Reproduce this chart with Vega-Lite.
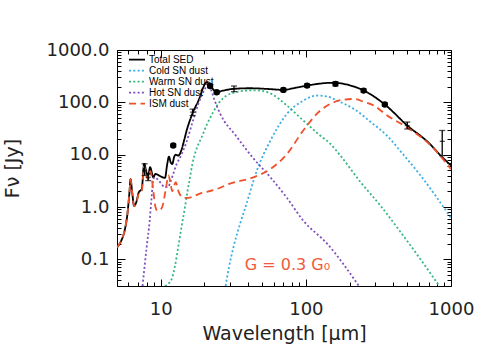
{
  "$schema": "https://vega.github.io/schema/vega-lite/v6.json",
  "width": 334,
  "height": 236,
  "autosize": {"type": "none"},
  "padding": {"left": 117, "top": 50, "right": 26, "bottom": 72},
  "config": {"view": {"stroke": null}, "font": "DejaVu Sans"},
  "datasets": {
    "curves": [
      {"series": "Total SED", "wl": 5.0, "f": 0.17}, {"series": "Total SED", "wl": 5.36, "f": 0.23}, {"series": "Total SED", "wl": 5.65, "f": 0.36}, {"series": "Total SED", "wl": 5.9, "f": 0.74}, {"series": "Total SED", "wl": 6.1, "f": 2.0}, {"series": "Total SED", "wl": 6.2, "f": 3.4}, {"series": "Total SED", "wl": 6.35, "f": 2.0}, {"series": "Total SED", "wl": 6.56, "f": 1.05}, {"series": "Total SED", "wl": 6.8, "f": 1.25}, {"series": "Total SED", "wl": 7.06, "f": 1.9}, {"series": "Total SED", "wl": 7.4, "f": 2.2}, {"series": "Total SED", "wl": 7.7, "f": 6.7}, {"series": "Total SED", "wl": 7.98, "f": 4.6}, {"series": "Total SED", "wl": 8.2, "f": 4.0}, {"series": "Total SED", "wl": 8.45, "f": 5.8}, {"series": "Total SED", "wl": 8.9, "f": 3.7}, {"series": "Total SED", "wl": 9.2, "f": 4.3}, {"series": "Total SED", "wl": 9.9, "f": 3.9}, {"series": "Total SED", "wl": 10.7, "f": 3.6}, {"series": "Total SED", "wl": 11.1, "f": 6.7}, {"series": "Total SED", "wl": 11.4, "f": 9.2}, {"series": "Total SED", "wl": 11.7, "f": 7.2}, {"series": "Total SED", "wl": 12.0, "f": 6.6}, {"series": "Total SED", "wl": 12.4, "f": 9.2}, {"series": "Total SED", "wl": 12.7, "f": 10}, {"series": "Total SED", "wl": 13.2, "f": 9.6}, {"series": "Total SED", "wl": 13.8, "f": 11.6}, {"series": "Total SED", "wl": 14.4, "f": 17.5}, {"series": "Total SED", "wl": 15.1, "f": 29}, {"series": "Total SED", "wl": 16.7, "f": 65}, {"series": "Total SED", "wl": 18.5, "f": 120}, {"series": "Total SED", "wl": 19.6, "f": 190}, {"series": "Total SED", "wl": 20.7, "f": 242}, {"series": "Total SED", "wl": 22.0, "f": 205}, {"series": "Total SED", "wl": 24.3, "f": 158}, {"series": "Total SED", "wl": 27, "f": 168}, {"series": "Total SED", "wl": 31.7, "f": 181}, {"series": "Total SED", "wl": 41, "f": 186}, {"series": "Total SED", "wl": 55, "f": 180}, {"series": "Total SED", "wl": 70, "f": 173}, {"series": "Total SED", "wl": 85, "f": 190}, {"series": "Total SED", "wl": 102, "f": 209}, {"series": "Total SED", "wl": 125, "f": 228}, {"series": "Total SED", "wl": 148, "f": 236}, {"series": "Total SED", "wl": 165, "f": 234}, {"series": "Total SED", "wl": 200, "f": 212}, {"series": "Total SED", "wl": 251, "f": 168}, {"series": "Total SED", "wl": 350, "f": 91}, {"series": "Total SED", "wl": 500, "f": 36}, {"series": "Total SED", "wl": 700, "f": 17}, {"series": "Total SED", "wl": 850, "f": 9.6}, {"series": "Total SED", "wl": 1000, "f": 6.2},
      {"series": "Cold SN dust", "wl": 28, "f": 0.031}, {"series": "Cold SN dust", "wl": 29.5, "f": 0.07}, {"series": "Cold SN dust", "wl": 31.7, "f": 0.17}, {"series": "Cold SN dust", "wl": 35, "f": 0.45}, {"series": "Cold SN dust", "wl": 39, "f": 1.15}, {"series": "Cold SN dust", "wl": 46, "f": 5.0}, {"series": "Cold SN dust", "wl": 57, "f": 18.6}, {"series": "Cold SN dust", "wl": 74, "f": 60}, {"series": "Cold SN dust", "wl": 96, "f": 108}, {"series": "Cold SN dust", "wl": 119, "f": 135}, {"series": "Cold SN dust", "wl": 140, "f": 130}, {"series": "Cold SN dust", "wl": 164, "f": 108}, {"series": "Cold SN dust", "wl": 214, "f": 75}, {"series": "Cold SN dust", "wl": 280, "f": 42}, {"series": "Cold SN dust", "wl": 363, "f": 23}, {"series": "Cold SN dust", "wl": 470, "f": 10}, {"series": "Cold SN dust", "wl": 617, "f": 4.0}, {"series": "Cold SN dust", "wl": 1000, "f": 0.62},
      {"series": "Warm SN dust", "wl": 10.7, "f": 0.031}, {"series": "Warm SN dust", "wl": 11.9, "f": 0.042}, {"series": "Warm SN dust", "wl": 12.5, "f": 0.071}, {"series": "Warm SN dust", "wl": 13.2, "f": 0.17}, {"series": "Warm SN dust", "wl": 13.9, "f": 0.41}, {"series": "Warm SN dust", "wl": 14.7, "f": 1.0}, {"series": "Warm SN dust", "wl": 15.3, "f": 2.0}, {"series": "Warm SN dust", "wl": 15.9, "f": 3.6}, {"series": "Warm SN dust", "wl": 16.5, "f": 6.5}, {"series": "Warm SN dust", "wl": 17.5, "f": 12}, {"series": "Warm SN dust", "wl": 19.2, "f": 22}, {"series": "Warm SN dust", "wl": 21, "f": 40}, {"series": "Warm SN dust", "wl": 23, "f": 65}, {"series": "Warm SN dust", "wl": 25, "f": 95}, {"series": "Warm SN dust", "wl": 28.5, "f": 135}, {"series": "Warm SN dust", "wl": 33, "f": 156}, {"series": "Warm SN dust", "wl": 37, "f": 166}, {"series": "Warm SN dust", "wl": 43.5, "f": 170}, {"series": "Warm SN dust", "wl": 50, "f": 165}, {"series": "Warm SN dust", "wl": 57, "f": 148}, {"series": "Warm SN dust", "wl": 74, "f": 87}, {"series": "Warm SN dust", "wl": 96, "f": 45}, {"series": "Warm SN dust", "wl": 126, "f": 23}, {"series": "Warm SN dust", "wl": 148, "f": 16}, {"series": "Warm SN dust", "wl": 173, "f": 9.6}, {"series": "Warm SN dust", "wl": 238, "f": 3.0}, {"series": "Warm SN dust", "wl": 327, "f": 1.06}, {"series": "Warm SN dust", "wl": 450, "f": 0.33}, {"series": "Warm SN dust", "wl": 617, "f": 0.10}, {"series": "Warm SN dust", "wl": 830, "f": 0.031},
      {"series": "Hot SN dust", "wl": 7.5, "f": 0.031}, {"series": "Hot SN dust", "wl": 8.0, "f": 0.17}, {"series": "Hot SN dust", "wl": 8.4, "f": 0.55}, {"series": "Hot SN dust", "wl": 8.65, "f": 1.5}, {"series": "Hot SN dust", "wl": 8.9, "f": 3.4}, {"series": "Hot SN dust", "wl": 9.1, "f": 3.7}, {"series": "Hot SN dust", "wl": 9.5, "f": 3.4}, {"series": "Hot SN dust", "wl": 10.1, "f": 2.8}, {"series": "Hot SN dust", "wl": 10.6, "f": 2.4}, {"series": "Hot SN dust", "wl": 11.2, "f": 2.4}, {"series": "Hot SN dust", "wl": 11.8, "f": 3.3}, {"series": "Hot SN dust", "wl": 12.2, "f": 4.3}, {"series": "Hot SN dust", "wl": 12.9, "f": 6.7}, {"series": "Hot SN dust", "wl": 13.5, "f": 8.5}, {"series": "Hot SN dust", "wl": 15, "f": 17}, {"series": "Hot SN dust", "wl": 16.7, "f": 45}, {"series": "Hot SN dust", "wl": 18.2, "f": 95}, {"series": "Hot SN dust", "wl": 20.2, "f": 181}, {"series": "Hot SN dust", "wl": 21.3, "f": 226}, {"series": "Hot SN dust", "wl": 22.3, "f": 170}, {"series": "Hot SN dust", "wl": 23.5, "f": 110}, {"series": "Hot SN dust", "wl": 25.6, "f": 62}, {"series": "Hot SN dust", "wl": 33.4, "f": 22}, {"series": "Hot SN dust", "wl": 43.5, "f": 8.5}, {"series": "Hot SN dust", "wl": 57, "f": 3.7}, {"series": "Hot SN dust", "wl": 74, "f": 1.5}, {"series": "Hot SN dust", "wl": 96, "f": 0.55}, {"series": "Hot SN dust", "wl": 140, "f": 0.2}, {"series": "Hot SN dust", "wl": 232, "f": 0.031},
      {"series": "ISM dust", "wl": 5.0, "f": 0.17}, {"series": "ISM dust", "wl": 5.36, "f": 0.23}, {"series": "ISM dust", "wl": 5.65, "f": 0.36}, {"series": "ISM dust", "wl": 5.9, "f": 0.74}, {"series": "ISM dust", "wl": 6.1, "f": 2.0}, {"series": "ISM dust", "wl": 6.2, "f": 3.4}, {"series": "ISM dust", "wl": 6.35, "f": 2.0}, {"series": "ISM dust", "wl": 6.56, "f": 1.05}, {"series": "ISM dust", "wl": 6.8, "f": 1.2}, {"series": "ISM dust", "wl": 7.06, "f": 1.8}, {"series": "ISM dust", "wl": 7.4, "f": 2.0}, {"series": "ISM dust", "wl": 7.7, "f": 6.0}, {"series": "ISM dust", "wl": 7.98, "f": 4.0}, {"series": "ISM dust", "wl": 8.2, "f": 3.3}, {"series": "ISM dust", "wl": 8.5, "f": 4.8}, {"series": "ISM dust", "wl": 8.9, "f": 2.0}, {"series": "ISM dust", "wl": 9.2, "f": 1.0}, {"series": "ISM dust", "wl": 9.5, "f": 0.85}, {"series": "ISM dust", "wl": 10.0, "f": 0.9}, {"series": "ISM dust", "wl": 10.4, "f": 1.15}, {"series": "ISM dust", "wl": 10.7, "f": 1.8}, {"series": "ISM dust", "wl": 11.0, "f": 2.8}, {"series": "ISM dust", "wl": 11.3, "f": 4.0}, {"series": "ISM dust", "wl": 11.7, "f": 2.8}, {"series": "ISM dust", "wl": 12.0, "f": 2.0}, {"series": "ISM dust", "wl": 12.4, "f": 2.6}, {"series": "ISM dust", "wl": 12.7, "f": 3.0}, {"series": "ISM dust", "wl": 13.2, "f": 2.06}, {"series": "ISM dust", "wl": 14.3, "f": 1.5}, {"series": "ISM dust", "wl": 15.5, "f": 1.5}, {"series": "ISM dust", "wl": 18.6, "f": 1.8}, {"series": "ISM dust", "wl": 24.3, "f": 2.2}, {"series": "ISM dust", "wl": 30, "f": 2.8}, {"series": "ISM dust", "wl": 43.5, "f": 3.7}, {"series": "ISM dust", "wl": 57, "f": 5.3}, {"series": "ISM dust", "wl": 74, "f": 10.3}, {"series": "ISM dust", "wl": 96, "f": 29}, {"series": "ISM dust", "wl": 126, "f": 70}, {"series": "ISM dust", "wl": 148, "f": 94}, {"series": "ISM dust", "wl": 180, "f": 112}, {"series": "ISM dust", "wl": 214, "f": 116}, {"series": "ISM dust", "wl": 250, "f": 103}, {"series": "ISM dust", "wl": 294, "f": 87}, {"series": "ISM dust", "wl": 363, "f": 56}, {"series": "ISM dust", "wl": 500, "f": 33}, {"series": "ISM dust", "wl": 725, "f": 15}, {"series": "ISM dust", "wl": 1000, "f": 5.3}
    ],
    "obs": [
      {"wl": 7.75, "f": 5.0, "lo": 4.0, "hi": 6.7, "circle": false},
      {"wl": 8.2, "f": 3.7, "lo": 3.2, "hi": 4.3, "circle": false},
      {"wl": 12.2, "f": 15, "lo": 14, "hi": 16, "circle": true},
      {"wl": 16.6, "f": 65, "lo": 56, "hi": 74, "circle": false},
      {"wl": 21.9, "f": 205, "lo": 190, "hi": 220, "circle": true},
      {"wl": 24.3, "f": 156, "lo": 145, "hi": 168, "circle": true},
      {"wl": 32, "f": 181, "lo": 160, "hi": 205, "circle": false},
      {"wl": 70, "f": 173, "lo": 160, "hi": 186, "circle": true},
      {"wl": 102, "f": 209, "lo": 193, "hi": 225, "circle": true},
      {"wl": 160, "f": 226, "lo": 205, "hi": 248, "circle": true},
      {"wl": 250, "f": 168, "lo": 155, "hi": 181, "circle": true},
      {"wl": 350, "f": 91, "lo": 84, "hi": 98, "circle": true},
      {"wl": 500, "f": 36, "lo": 31, "hi": 42, "circle": false},
      {"wl": 870, "f": 18, "lo": 9.6, "hi": 29, "circle": false}
    ],
    "notes": [{"wl": 38, "f": 0.0775, "label": "G = 0.3 G₀"}]
  },
  "layer": [
    {
      "data": {"name": "curves"},
      "mark": {"type": "line", "strokeWidth": 1.8, "clip": true, "interpolate": "monotone"},
      "encoding": {
        "x": {"field": "wl", "type": "quantitative",
          "scale": {"type": "log", "domain": [5, 1000], "nice": false},
          "axis": {"orient": "bottom", "values": [5,6,7,8,9,10,20,30,40,50,60,70,80,90,100,200,300,400,500,600,700,800,900,1000],
            "labelExpr": "datum.value==10?'10':datum.value==100?'100':datum.value==1000?'1000':''",
            "tickSize": {"condition": {"test": "datum.value==10||datum.value==100||datum.value==1000", "value": -7}, "value": -4},
            "labelPadding": 21, "labelFontSize": 18, "labelFont": "DejaVu Sans", "labelColor": "#222", "labelFlush": false, "labelOverlap": false,
            "tickColor": "black", "domainColor": "black", "grid": false,
            "title": "Wavelength [μm]", "titleFontSize": 19, "titleFontWeight": "normal", "titleFont": "DejaVu Sans", "titleColor": "#222", "titleY": 38, "titleBaseline": "top"}},
        "y": {"field": "f", "type": "quantitative",
          "scale": {"type": "log", "domain": [0.031, 1000], "nice": false},
          "axis": {"orient": "left", "values": [0.04,0.05,0.06,0.07,0.08,0.09,0.1,0.2,0.3,0.4,0.5,0.6,0.7,0.8,0.9,1,2,3,4,5,6,7,8,9,10,20,30,40,50,60,70,80,90,100,200,300,400,500,600,700,800,900,1000],
            "labelExpr": "datum.value==1000?'1000.0':datum.value==100?'100.0':datum.value==10?'10.0':datum.value==1?'1.0':datum.value==0.1?'0.1':''",
            "tickSize": {"condition": {"test": "datum.value==0.1||datum.value==1||datum.value==10||datum.value==100||datum.value==1000", "value": -8}, "value": -4},
            "labelPadding": 16, "labelFontSize": 18, "labelFont": "DejaVu Sans", "labelColor": "#222", "labelFlush": false, "labelOverlap": false,
            "tickColor": "black", "domainColor": "black", "grid": false,
            "title": "Fν [Jy]", "titleFontSize": 19, "titleFontWeight": "normal", "titleFont": "DejaVu Sans", "titleColor": "#222", "titleX": -95, "titleY": 118}},
        "color": {"field": "series", "type": "nominal",
          "scale": {"domain": ["Total SED", "Cold SN dust", "Warm SN dust", "Hot SN dust", "ISM dust"], "range": ["#000000", "#3aaee6", "#35b77f", "#7e4fbd", "#f0502a"]},
          "legend": {"title": null, "orient": "none", "legendX": 14, "legendY": 3.7, "padding": 0, "symbolType": "M-1.6,0H1.6", "symbolSize": 100, "symbolStrokeWidth": 1.8, "symbolFillColor": "transparent", "labelFont": "Liberation Sans", "labelFontSize": 10, "labelColor": "#000", "labelOffset": 6, "rowPadding": 0}},
        "strokeDash": {"field": "series", "type": "nominal",
          "scale": {"domain": ["Total SED", "Cold SN dust", "Warm SN dust", "Hot SN dust", "ISM dust"], "range": [[1, 0], [2, 2.3], [2, 2.3], [2, 2.3], [7, 4.5]]},
          "legend": {"title": null, "orient": "none", "legendX": 14, "legendY": 3.7, "padding": 0, "symbolType": "M-1.6,0H1.6", "symbolSize": 100, "symbolStrokeWidth": 1.8, "symbolFillColor": "transparent", "labelFont": "Liberation Sans", "labelFontSize": 10, "labelColor": "#000", "labelOffset": 6, "rowPadding": 0}}
      }
    },
    {
      "data": {"name": "obs"},
      "mark": {"type": "rule", "color": "black", "strokeWidth": 1.3},
      "encoding": {
        "x": {"field": "wl", "type": "quantitative",
          "axis": {"orient": "top", "values": [5,6,7,8,9,10,20,30,40,50,60,70,80,90,100,200,300,400,500,600,700,800,900,1000], "labels": false, "title": null, "grid": false,
            "tickSize": {"condition": {"test": "datum.value==10||datum.value==100||datum.value==1000", "value": -7}, "value": -4},
            "tickColor": "black", "domainColor": "black"}},
        "y": {"field": "lo", "type": "quantitative",
          "axis": {"orient": "right", "values": [0.04,0.05,0.06,0.07,0.08,0.09,0.1,0.2,0.3,0.4,0.5,0.6,0.7,0.8,0.9,1,2,3,4,5,6,7,8,9,10,20,30,40,50,60,70,80,90,100,200,300,400,500,600,700,800,900,1000], "labels": false, "title": null, "grid": false,
            "tickSize": {"condition": {"test": "datum.value==0.1||datum.value==1||datum.value==10||datum.value==100||datum.value==1000", "value": -8}, "value": -4},
            "tickColor": "black", "domainColor": "black"}},
        "y2": {"field": "hi"}
      }
    },
    {
      "data": {"name": "obs"},
      "mark": {"type": "tick", "orient": "horizontal", "color": "black", "size": 6, "thickness": 1.3},
      "encoding": {
        "x": {"field": "wl", "type": "quantitative", "axis": null},
        "y": {"field": "lo", "type": "quantitative", "axis": null}
      }
    },
    {
      "data": {"name": "obs"},
      "mark": {"type": "tick", "orient": "horizontal", "color": "black", "size": 6, "thickness": 1.3},
      "encoding": {
        "x": {"field": "wl", "type": "quantitative", "axis": null},
        "y": {"field": "hi", "type": "quantitative", "axis": null}
      }
    },
    {
      "data": {"name": "obs"},
      "mark": {"type": "tick", "orient": "horizontal", "color": "black", "size": 5, "thickness": 1.3},
      "encoding": {
        "x": {"field": "wl", "type": "quantitative", "axis": null},
        "y": {"field": "f", "type": "quantitative", "axis": null}
      }
    },
    {
      "data": {"name": "obs"},
      "transform": [{"filter": "datum.circle"}],
      "mark": {"type": "point", "filled": true, "color": "black", "size": 40, "opacity": 1},
      "encoding": {
        "x": {"field": "wl", "type": "quantitative", "axis": null},
        "y": {"field": "f", "type": "quantitative", "axis": null}
      }
    },
    {
      "data": {"name": "notes"},
      "mark": {"type": "text", "align": "left", "baseline": "middle", "font": "DejaVu Sans", "fontSize": 16, "color": "#f05a3a"},
      "encoding": {
        "x": {"field": "wl", "type": "quantitative", "axis": null},
        "y": {"field": "f", "type": "quantitative", "axis": null},
        "text": {"field": "label"}
      }
    }
  ],
  "resolve": {"axis": {"x": "independent", "y": "independent"}}
}
